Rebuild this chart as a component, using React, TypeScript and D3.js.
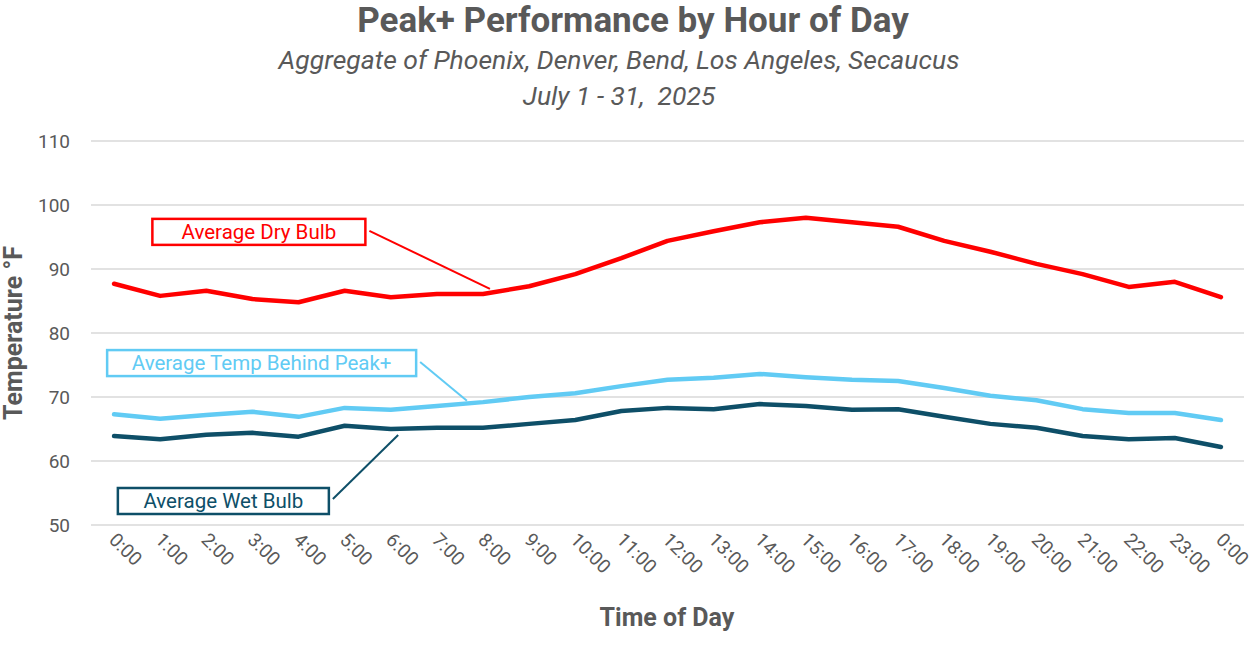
import React from "react";
import * as d3 from "d3";

const hours: string[] = [
  "0:00","1:00","2:00","3:00","4:00","5:00","6:00","7:00","8:00","9:00","10:00","11:00","12:00",
  "13:00","14:00","15:00","16:00","17:00","18:00","19:00","20:00","21:00","22:00","23:00","0:00 ",
];
const dryBulb: number[] = [87.7,85.8,86.6,85.3,84.8,86.6,85.6,86.1,86.1,87.3,89.2,91.7,94.4,95.9,97.3,98.0,97.3,96.6,94.4,92.7,90.8,89.2,87.2,88.0,85.6];
const behindPeak: number[] = [67.3,66.6,67.2,67.7,66.9,68.3,68.0,68.6,69.2,70.0,70.6,71.7,72.7,73.0,73.6,73.1,72.7,72.5,71.4,70.2,69.5,68.1,67.5,67.5,66.4];
const wetBulb: number[] = [63.9,63.4,64.1,64.4,63.8,65.5,65.0,65.2,65.2,65.8,66.4,67.8,68.3,68.1,68.9,68.6,68.0,68.1,66.9,65.8,65.2,63.9,63.4,63.6,62.2];
const yTicks: number[] = [50,60,70,80,90,100,110];

const W = 1256, H = 651;
const M = { left: 91, right: 1244, top: 141, bottom: 525 };
const GRAY = "#595959";

const seriesList = [
  { name: "Average Dry Bulb", values: dryBulb, color: "#FF0000" },
  { name: "Average Temp Behind Peak+", values: behindPeak, color: "#61CBF4" },
  { name: "Average Wet Bulb", values: wetBulb, color: "#0E4F68" },
];

// annotation: box center (hour index, temp), box width, leader end (hour index, temp)
const annotations = [
  { s: 0, cx: 3.14, cy: 95.8, w: 213, lx: 8.15, ly: 86.9 },
  { s: 1, cx: 3.2, cy: 75.3, w: 309, lx: 7.65, ly: 69.4 },
  { s: 2, cx: 2.37, cy: 53.75, w: 211, lx: 6.16, ly: 64.06 },
];

export default function App() {
  const x = d3.scaleBand<number>().domain(d3.range(hours.length)).range([M.left, M.right]);
  const xc = (i: number) => M.left + (i + 0.5) * x.step();
  const y = d3.scaleLinear().domain([50, 110]).range([M.bottom, M.top]);
  const line = d3.line<number>().x((_, i) => xc(i)).y((v) => y(v));
  const font = "Roboto, 'Open Sans', sans-serif";

  return (
    <svg width={W} height={H} style={{ position: "absolute", left: 0, top: 0, background: "#fff" }} fontFamily={font}>
      <text x={633} y={32} textAnchor="middle" fontSize={35} fontWeight={700} fill={GRAY}>Peak+ Performance by Hour of Day</text>
      <text x={619} y={69} textAnchor="middle" fontSize={26.5} fontStyle="italic" fill={GRAY}>Aggregate of Phoenix, Denver, Bend, Los Angeles, Secaucus</text>
      <text x={619} y={105} textAnchor="middle" fontSize={26.5} fontStyle="italic" fill={GRAY} style={{ whiteSpace: "pre" }}>July 1 - 31,  2025</text>

      {yTicks.map((t) => (
        <g key={t}>
          <line x1={M.left} x2={M.right} y1={y(t)} y2={y(t)} stroke="#D9D9D9" strokeWidth={1.5} />
          <text x={70} y={y(t) + 6.5} textAnchor="end" fontSize={19} fill={GRAY}>{t}</text>
        </g>
      ))}

      {hours.map((h, i) => (
        <text key={i} transform={`translate(${xc(i) - 6},${541}) rotate(45)`} fontSize={19} fill={GRAY}>{h.trim()}</text>
      ))}

      <text transform={`translate(22,${333}) rotate(-90)`} textAnchor="middle" fontSize={25} fontWeight={700} fill={GRAY}>Temperature °F</text>
      <text x={667} y={626} textAnchor="middle" fontSize={25} fontWeight={700} fill={GRAY}>Time of Day</text>

      {seriesList.map((s) => (
        <path key={s.name} d={line(s.values) || ""} fill="none" stroke={s.color} strokeWidth={4.5} strokeLinejoin="round" strokeLinecap="round" />
      ))}

      {annotations.map((a) => {
        const s = seriesList[a.s];
        const cx = xc(a.cx), cy = y(a.cy);
        const bx = cx - a.w / 2, by = cy - 13;
        const lx = xc(a.lx), ly = y(a.ly);
        const sx = bx + a.w + 4;
        const sy = ly > cy ? cy - 1 : cy - 2;
        return (
          <g key={s.name}>
            <rect x={bx} y={by} width={a.w} height={26} fill="#fff" stroke={s.color} strokeWidth={2.5} />
            <text x={cx} y={cy + 7} textAnchor="middle" fontSize={20.5} fill={s.color}>{s.name}</text>
            <line x1={sx} y1={sy} x2={lx} y2={ly} stroke={s.color} strokeWidth={2} />
          </g>
        );
      })}
    </svg>
  );
}
